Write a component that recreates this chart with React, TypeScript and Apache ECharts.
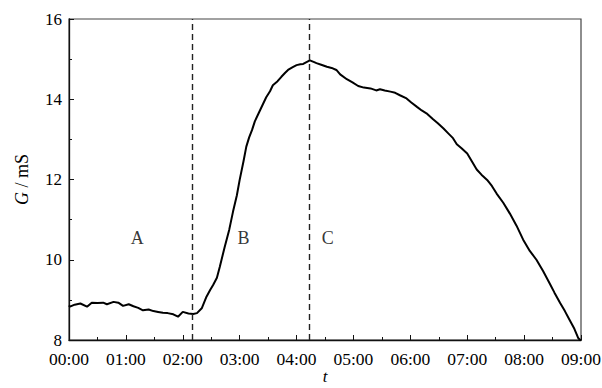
import React, { useEffect, useRef } from "react";
import * as echarts from "echarts";

// elapsed time in minutes since 00:00
const timeMinutes = [
  0, 1, 6, 12, 19, 24, 30, 36, 40, 47, 52, 57, 63, 68, 73, 78, 84, 89, 94, 99, 104, 110, 115, 120, 126,
  131, 135, 140, 145, 149, 152, 156, 159, 164, 169, 173, 177, 180, 184, 187, 190, 193, 196, 200, 204, 208,
  212, 215, 220, 224, 228, 231, 236, 240, 244, 247, 250, 254, 258, 261, 266, 272, 277, 282, 286, 293, 299,
  305, 311, 318, 324, 328, 333, 339, 344, 349, 356, 361, 367, 372, 377, 384, 389, 395, 400, 405, 409, 414,
  420, 425, 430, 435, 441, 446, 451, 458, 465, 472, 479, 486, 493, 500, 507, 512, 518, 523, 528, 533, 537, 540,
];
// conductance G in mS
const conductance = [
  8.86, 8.83, 8.88, 8.91, 8.83, 8.93, 8.92, 8.93, 8.89, 8.95, 8.93, 8.85, 8.89, 8.84, 8.8, 8.74, 8.76, 8.72,
  8.7, 8.68, 8.67, 8.64, 8.58, 8.7, 8.66, 8.65, 8.67, 8.79, 9.08, 9.25, 9.37, 9.55, 9.82, 10.3, 10.75, 11.2,
  11.6, 11.99, 12.45, 12.82, 13.05, 13.23, 13.45, 13.65, 13.85, 14.05, 14.2, 14.35, 14.45, 14.56, 14.66, 14.73,
  14.8, 14.85, 14.87, 14.88, 14.92, 14.97, 14.93, 14.9, 14.86, 14.81, 14.78, 14.73, 14.62, 14.5, 14.42, 14.33,
  14.29, 14.27, 14.22, 14.25, 14.22, 14.19, 14.16, 14.1, 14.02, 13.92, 13.81, 13.72, 13.65, 13.5, 13.4, 13.27,
  13.15, 13.03, 12.88, 12.78, 12.65, 12.45, 12.25, 12.12, 11.99, 11.84, 11.65, 11.42, 11.15, 10.85, 10.5,
  10.22, 10.0, 9.72, 9.41, 9.18, 8.92, 8.72, 8.5, 8.28, 8.05, 7.98,
];
// phase boundaries (minutes)
const phaseBoundaries = [130.5, 253];
// phase labels and their positions
const phaseLabels = ["A", "B", "C"];
const phaseLabelTime = [72, 184, 273];
const phaseLabelG = [10.53, 10.53, 10.53];

const FONT = "Liberation Serif";

function fmtTime(v: number): string {
  const h = Math.floor(v / 60);
  const m = Math.round(v - h * 60);
  return String(h).padStart(2, "0") + ":" + String(m).padStart(2, "0");
}

export default function App() {
  const ref = useRef<HTMLDivElement>(null);
  useEffect(() => {
    if (!ref.current) return;
    const chart = echarts.init(ref.current, undefined, { renderer: "svg" });
    const lineData = timeMinutes.map((t, i) => [t, conductance[i]]);
    const labelData = phaseLabels.map((name, i) => [phaseLabelTime[i], phaseLabelG[i], name]);
    chart.setOption({
      animation: false,
      backgroundColor: "#fff",
      textStyle: { fontFamily: FONT },
      grid: {
        left: 69,
        top: 19,
        right: 21,
        bottom: 48,
        containLabel: false,
        outerBoundsMode: "none",
        show: true,
        borderColor: "#444",
        borderWidth: 1.2,
        backgroundColor: "transparent",
      },
      xAxis: {
        type: "value",
        min: 0,
        max: 540,
        interval: 60,
        name: "t",
        nameLocation: "middle",
        nameGap: 28,
        nameMoveOverlap: false,
        nameTextStyle: { fontFamily: FONT, fontSize: 17, lineHeight: 16, fontStyle: "italic", color: "#000" },
        axisLine: { lineStyle: { color: "#111", width: 1.3 } },
        axisTick: { inside: true, length: 5, lineStyle: { color: "#111" } },
        minorTick: { show: true, splitNumber: 2, length: 3, lineStyle: { color: "#111" } },
        splitLine: { show: false },
        axisLabel: {
          formatter: (v: number) => fmtTime(v),
          fontFamily: FONT,
          fontSize: 17.5,
          lineHeight: 15,
          color: "#000",
          margin: 11,
        },
      },
      yAxis: {
        type: "value",
        min: 8,
        max: 16,
        interval: 2,
        name: "{i|G}{n| / mS}",
        nameLocation: "middle",
        nameGap: 38,
        nameMoveOverlap: false,
        nameTextStyle: {
          fontFamily: FONT,
          fontSize: 18,
          color: "#000",
          rich: {
            i: { fontFamily: FONT, fontSize: 18, fontStyle: "italic", color: "#000" },
            n: { fontFamily: FONT, fontSize: 18, color: "#000" },
          },
        },
        axisLine: { lineStyle: { color: "#111", width: 1.3 } },
        axisTick: { inside: true, length: 5, lineStyle: { color: "#111" } },
        minorTick: { show: true, splitNumber: 2, length: 3, lineStyle: { color: "#111" } },
        splitLine: { show: false },
        axisLabel: { fontFamily: FONT, fontSize: 17, lineHeight: 13, color: "#000", margin: 7 },
      },
      series: [
        {
          type: "line",
          data: lineData,
          showSymbol: false,
          symbol: "none",
          lineStyle: { color: "#000", width: 2 },
          silent: true,
          markLine: {
            silent: true,
            symbol: "none",
            label: { show: false },
            lineStyle: { color: "#222", width: 1.4, type: [6, 4] },
            data: phaseBoundaries.map((x) => ({ xAxis: x })),
          },
        },
        {
          type: "scatter",
          data: labelData,
          symbolSize: 0,
          silent: true,
          label: {
            show: true,
            position: "inside",
            formatter: (p: any) => p.value[2],
            fontFamily: FONT,
            fontSize: 18,
            color: "#000",
          },
        },
      ],
    });
    return () => chart.dispose();
  }, []);
  return (
    <div
      ref={ref}
      style={{ position: "fixed", left: 0, top: 0, width: 602, height: 388 }}
    />
  );
}
